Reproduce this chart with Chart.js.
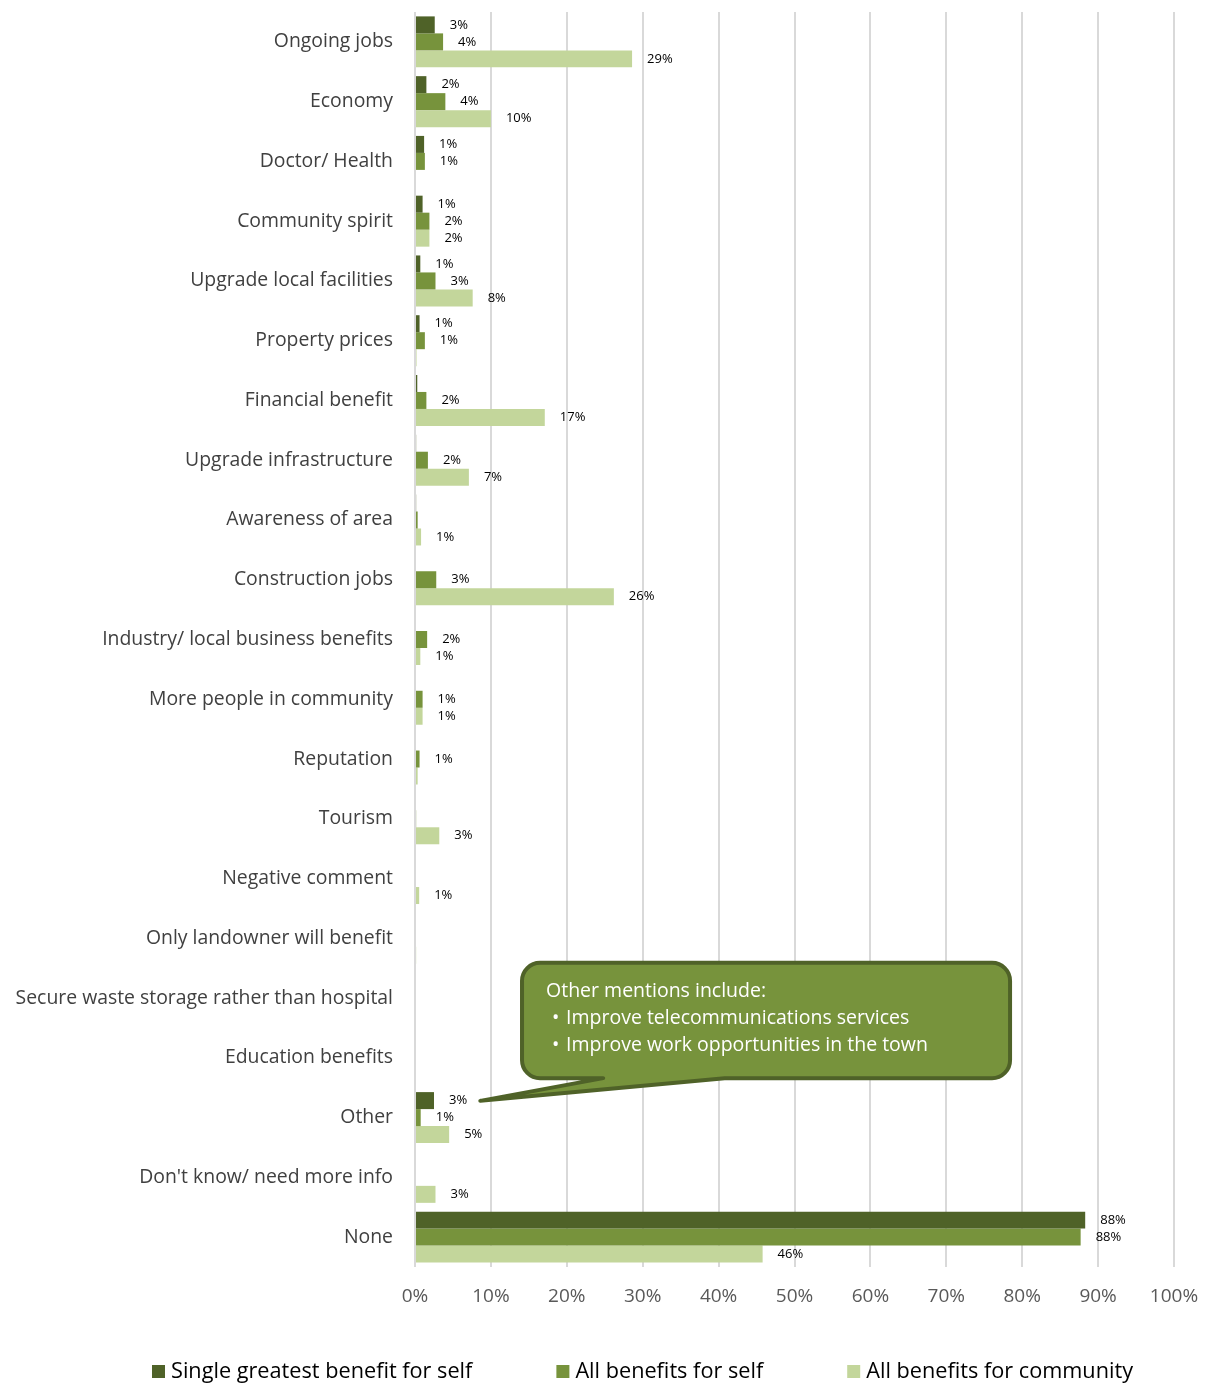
<!DOCTYPE html>
<html>
<head>
<meta charset="utf-8">
<script src="https://cdn.jsdelivr.net/npm/chart.js@4.4.0/dist/chart.umd.min.js"></script>
<style>
  html, body { margin: 0; padding: 0; background: #fff; }
  #wrap { width: 1208px; height: 1385px; }
</style>
</head>
<body>
<div id="wrap"><canvas id="benefitChart" width="1208" height="1385"></canvas></div>
<script>
// Chart values (percent of respondents)
const categories = [
  'Ongoing jobs', 'Economy', 'Doctor/ Health', 'Community spirit', 'Upgrade local facilities',
  'Property prices', 'Financial benefit', 'Upgrade infrastructure', 'Awareness of area',
  'Construction jobs', 'Industry/ local business benefits', 'More people in community',
  'Reputation', 'Tourism', 'Negative comment', 'Only landowner will benefit',
  'Secure waste storage rather than hospital', 'Education benefits', 'Other',
  "Don't know/ need more info", 'None'
];
const singleSelf   = [2.6, 1.5, 1.2, 1.0, 0.7, 0.6, 0.3, 0.15, 0.15, 0, 0, 0, 0, 0, 0, 0, 0, 0, 2.5, 0, 88.3];
const allSelf      = [3.7, 4.0, 1.3, 1.9, 2.7, 1.3, 1.5, 1.7, 0.35, 2.8, 1.6, 1.0, 0.6, 0.15, 0, 0, 0, 0, 0.75, 0, 87.7];
const allCommunity = [28.6, 10.0, 0, 1.9, 7.6, 0.2, 17.1, 7.1, 0.8, 26.2, 0.7, 1.0, 0.35, 3.2, 0.55, 0.15, 0, 0, 4.5, 2.7, 45.8];

const seriesNames  = ['Single greatest benefit for self', 'All benefits for self', 'All benefits for community'];
const seriesColors = ['#4f6228', '#77933c', '#c3d69b'];
const xTicks = [0, 10, 20, 30, 40, 50, 60, 70, 80, 90, 100];

const calloutLines = [
  'Other mentions include:',
  '\u2022 Improve telecommunications services',
  '\u2022 Improve work opportunities in the town'
];

const FONT = '"Open Sans", "Noto Sans", sans-serif';

// percentage labels at the end of each bar
const barLabels = {
  id: 'barLabels',
  afterDatasetsDraw(chart) {
    const ctx = chart.ctx;
    ctx.save();
    ctx.font = '13px ' + FONT;
    ctx.fillStyle = '#000';
    ctx.textBaseline = 'middle';
    ctx.textAlign = 'left';
    chart.data.datasets.forEach((ds, i) => {
      chart.getDatasetMeta(i).data.forEach((bar, j) => {
        const pct = Math.round(ds.data[j]);
        if (!pct) return;
        ctx.fillText(pct + '%', bar.x + 15, bar.y);
      });
    });
    ctx.restore();
  }
};

// speech bubble pointing at the "Other" bars
function bubblePath(ctx, l, t, r, b, rad, bx0, bx1, tx, ty) {
  ctx.beginPath();
  ctx.moveTo(l + rad, t);
  ctx.lineTo(r - rad, t);
  ctx.arcTo(r, t, r, t + rad, rad);
  ctx.lineTo(r, b - rad);
  ctx.arcTo(r, b, r - rad, b, rad);
  ctx.lineTo(bx1, b);
  ctx.lineTo(tx, ty);
  ctx.lineTo(bx0, b);
  ctx.lineTo(l + rad, b);
  ctx.arcTo(l, b, l, b - rad, rad);
  ctx.lineTo(l, t + rad);
  ctx.arcTo(l, t, l + rad, t, rad);
  ctx.closePath();
}

const callout = {
  id: 'callout',
  afterDraw(chart) {
    const { ctx, scales: { x, y } } = chart;
    const step = y.getPixelForValue(1) - y.getPixelForValue(0);
    const yAt = v => y.getPixelForValue(0) + v * step;
    const l = x.getPixelForValue(14.1), r = x.getPixelForValue(78.4);
    const t = yAt(15.41), b = yAt(17.34);
    ctx.save();
    bubblePath(ctx, l, t, r, b, 18,
      x.getPixelForValue(24.8), x.getPixelForValue(40.8),
      x.getPixelForValue(8.6), yAt(17.72));
    ctx.fillStyle = '#77933c';
    ctx.fill();
    ctx.lineWidth = 4;
    ctx.lineJoin = 'round';
    ctx.strokeStyle = '#4f6228';
    ctx.stroke();

    ctx.fillStyle = '#fff';
    ctx.font = '19.5px ' + FONT;
    ctx.textBaseline = 'middle';
    calloutLines.forEach((line, i) => {
      const ly = t + 29 + i * 27;
      if (line.startsWith('\u2022')) {
        ctx.fillText('\u2022', l + 30, ly);
        ctx.fillText(line.slice(2), l + 44, ly);
      } else {
        ctx.fillText(line, l + 24, ly);
      }
    });
    ctx.restore();
  }
};

// legend row under the axis
const bottomLegend = {
  id: 'bottomLegend',
  afterDraw(chart) {
    const ctx = chart.ctx;
    ctx.save();
    ctx.font = '21.7px ' + FONT;
    ctx.textBaseline = 'middle';
    let cx = 152;
    const cy = 1372;
    chart.data.datasets.forEach(ds => {
      ctx.fillStyle = ds.backgroundColor;
      ctx.fillRect(cx, cy - 7, 13, 13);
      ctx.fillStyle = '#000';
      ctx.fillText(ds.label, cx + 19, cy);
      cx += 19 + ctx.measureText(ds.label).width + 84;
    });
    ctx.restore();
  }
};

const datasets = [singleSelf, allSelf, allCommunity].map((data, i) => ({
  label: seriesNames[i],
  data,
  backgroundColor: seriesColors[i],
  borderWidth: 0,
  barPercentage: 1,
  categoryPercentage: 0.853
}));

new Chart(document.getElementById('benefitChart'), {
  type: 'bar',
  data: { labels: categories, datasets },
  options: {
    indexAxis: 'y',
    responsive: false,
    animation: false,
    layout: { padding: { top: 12, right: 34, bottom: 70, left: 15 } },
    scales: {
      x: {
        min: 0,
        max: 100,
        afterBuildTicks: scale => { scale.ticks = xTicks.map(v => ({ value: v })); },
        afterFit: scale => {
          scale.height = 48;
          scale.paddingLeft = 0;
          scale.paddingRight = 0;
        },
        grid: { color: '#d9d9d9', lineWidth: 2, drawTicks: false },
        border: { display: false },
        ticks: {
          callback: v => v + '%',
          color: '#595959',
          font: { family: FONT, size: 19 },
          padding: 18
        }
      },
      y: {
        afterFit: scale => {
          scale.width = 400;
          scale.paddingTop = 0;
          scale.paddingBottom = 0;
        },
        grid: { display: false, drawTicks: false },
        border: { display: false },
        ticks: {
          autoSkip: false,
          color: '#404040',
          font: { family: FONT, size: 19.4 },
          padding: 22
        }
      }
    },
    plugins: {
      legend: { display: false },
      tooltip: { enabled: false }
    }
  },
  plugins: [barLabels, callout, bottomLegend]
});
</script>
</body>
</html>
